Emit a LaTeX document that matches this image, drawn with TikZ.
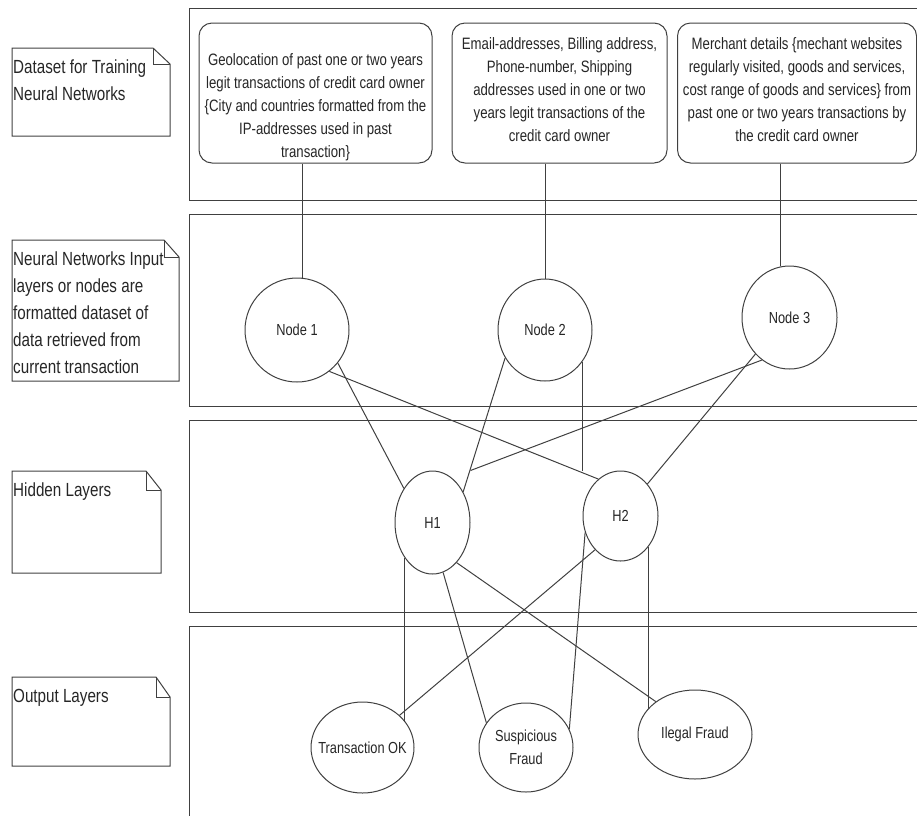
\documentclass[tikz,border=0pt]{standalone}
\usepackage{fontspec}
\setmainfont{Liberation Sans}[FakeStretch=0.8]
\usepackage{tikz}
\usetikzlibrary{shapes.geometric,calc}

\tikzset{
  layerframe/.style={draw=black!75, line width=1pt},
  databox/.style={draw=black!75, line width=1pt, rounded corners=13pt, minimum width=#1, minimum height=140pt, inner sep=0pt},
  datatext/.style={align=center, inner sep=0pt, text=black!85, font=\fontsize{16.5}{23}\selectfont},
  neuron/.style={draw=black!75, line width=1pt, ellipse, inner xsep=-10pt, inner ysep=0pt, align=center, text=black!85, font=\fontsize{16}{23.5}\selectfont},
  notetext/.style={anchor=north west, align=left, inner sep=0pt, text=black!85, font=\fontsize{19}{27}\selectfont},
  wire/.style={black!75, line width=1pt},
}

\begin{document}
\begin{tikzpicture}[x=1pt,y=-1pt]
  \useasboundingbox (0,0) rectangle (917,815);
  \begin{scope}
    \clip (0,0) rectangle (917,815);
    % the four layer frames
    \foreach \ytop/\ybot in {8/200, 214/406, 420/612, 626/840}{
      \draw[layerframe] (189,\ytop) rectangle (945,\ybot);
    }
  \end{scope}

  % notes on the left
  \foreach \xa/\ya/\xb/\yb/\fx/\fy in {12/48/170/136/153/64, 12/240/179/381/164/257, 12/471/161/573/146/490, 12/677/170/766/156/697}{
    \draw[layerframe] (\xa,\ya) -- (\fx,\ya) -- (\xb,\fy) -- (\xb,\yb) -- (\xa,\yb) -- cycle;
    \draw[layerframe] (\fx,\ya) |- (\xb,\fy);
  }
  \node[notetext] (dataset) at (13,60) {Dataset for Training\\Neural Networks};
  \node[notetext] (inputs) at (13,252) {Neural Networks Input\\layers or nodes are\\formatted dataset of\\data retrieved from\\current transaction};
  \node[notetext] (hidden) at (13,483) {Hidden Layers};
  \node[notetext] (outputs) at (13,689) {Output Layers};

  % training data
  \node[databox=233pt] (boxA) at (315.5,93) {};
  \node[databox=215pt] (boxB) at (559.5,93) {};
  \node[databox=239pt] (boxC) at (797,93) {};
  \node[datatext] (txtA) at (315.5,107) {Geolocation of past one or two years\\legit transactions of credit card owner\\\{City and countries formatted from the\\IP-addresses used in past\\transaction\}};
  \node[datatext] (txtB) at (559.5,90) {Email-addresses, Billing address,\\Phone-number, Shipping\\addresses used in one or two\\years legit transactions of the\\credit card owner};
  \node[datatext] (txtC) at (797,90) {Merchant details \{mechant websites\\regularly visited, goods and services,\\cost range of goods and services\} from\\past one or two years transactions by\\the credit card owner};

  % network
  \node[neuron, minimum width=104pt, minimum height=104pt] (node1) at (297,330) {Node 1};
  \node[neuron, minimum width=94pt, minimum height=102pt] (node2) at (545,330) {Node 2};
  \node[neuron, minimum width=95pt, minimum height=103pt] (node3) at (789.5,317.5) {Node 3};
  \node[neuron, minimum width=75pt, minimum height=103pt] (h1) at (432.5,522.5) {H1};
  \node[neuron, minimum width=75pt, minimum height=90pt] (h2) at (620.5,516) {H2};
  \node[neuron, minimum width=103pt, minimum height=91pt] (ok) at (362.5,747.5) {Transaction OK};
  \node[neuron, minimum width=94pt, minimum height=89pt] (susp) at (526,747.5) {Suspicious\\Fraud};
  \node[neuron, minimum width=114pt, minimum height=89pt] (ilegal) at (695,734.5) {Ilegal Fraud};

  \draw[wire] (boxA.south -| node1.84.5) -- (node1.84.5);
  \draw[wire] (boxB.south -| node2.north) -- (node2.north);
  \draw[wire] (boxC.south -| node3.100.7) -- (node3.100.7);

  \draw[wire] (node1.-39) -- (h1.130.5);
  \draw[wire] (node1.-52.5) -- (h2.121);
  \draw[wire] (node2.215) -- (h1.45);
  \draw[wire] (node2.-41) -- (node2.-41 |- h2.north);
  \draw[wire] (node3.237) -- (h1.east |- h1.north);
  \draw[wire] (node3.227.5) -- (h2.50);

  \draw[wire] (h1.232) -- (h1.232 |- ok.31);
  \draw[wire] (h1.-78) -- (susp.148);
  \draw[wire] (h1.-59) -- (ilegal.140);
  \draw[wire] (h2.233.5) -- (ok.41);
  \draw[wire] (h2.205) -- (susp.23.5);
  \draw[wire] (h2.-48) -- (h2.-48 |- ilegal.152);
\end{tikzpicture}
\end{document}
